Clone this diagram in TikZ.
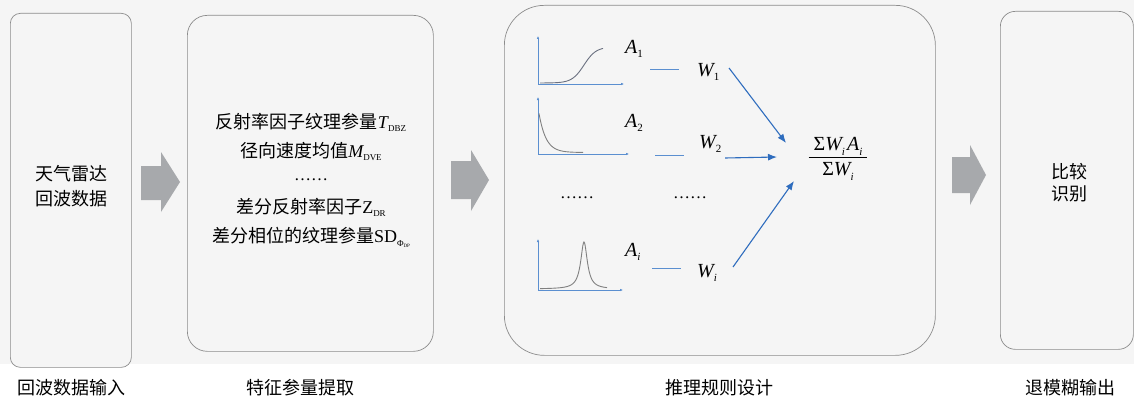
\documentclass[tikz,border=0pt]{standalone}
\usepackage{fontspec}
\setmainfont{Liberation Serif}
\newfontfamily\cjk{Noto Sans CJK SC}
\usetikzlibrary{arrows.meta}
\definecolor{bgcol}{HTML}{F5F5F5}
\definecolor{boxline}{HTML}{8C8C8C}
\definecolor{blockgray}{HTML}{A7A9AC}
\definecolor{axblue}{HTML}{5B8FD0}
\definecolor{arrblue}{HTML}{2F6DBE}
\definecolor{curvecol}{HTML}{6A7080}
\newcommand\mysub[1]{\raisebox{-0.45ex}{\fontsize{9}{9}\selectfont #1}}
\newcommand\mysubb[1]{\raisebox{-0.5ex}{\fontsize{11}{11}\selectfont #1}}
\tikzset{
  box/.style={draw=boxline, line width=0.7pt, fill=bgcol, anchor=north west, inner sep=0pt},
  lbl/.style={font=\cjk\fontsize{18}{21}\selectfont, inner sep=0pt},
  blk/.style={fill=blockgray},
  axis/.style={axblue, line width=0.6pt, -{Latex[length=3pt,width=2.6pt]}},
  curve/.style={curvecol, line width=0.9pt},
  seg/.style={axblue, line width=0.9pt},
  barr/.style={arrblue, line width=1.1pt, -{Latex[length=9pt,width=7pt]}},
  mlab/.style={font=\fontsize{20}{22}\selectfont, inner sep=0pt},
}
\begin{document}
\begin{tikzpicture}[x=1pt,y=-1pt]
\useasboundingbox (0,0) rectangle (1134,404);
\fill[bgcol] (0,0) rectangle (1134,364);
\fill[white] (0,364) rectangle (1134,404);
% boxes
\node[box, rounded corners=10pt, minimum width=121pt, minimum height=354pt] (b1) at (10,13) {};
\node[box, rounded corners=20pt, minimum width=246pt, minimum height=336pt] (b2) at (187,15) {};
\node[box, rounded corners=40pt, minimum width=431pt, minimum height=350pt] (b3) at (504,5) {};
\node[box, rounded corners=15pt, minimum width=133pt, minimum height=338pt] (b4) at (1000,11) {};
% block arrows
\fill[blk] (141,166) -- (161,166) -- (161,152) -- (180,182) -- (161,212) -- (161,200) -- (141,200) -- cycle;
\fill[blk] (451,161) -- (471,161) -- (471,150) -- (489,180) -- (471,211) -- (471,199) -- (451,199) -- cycle;
\fill[blk] (952,157) -- (970,157) -- (970,145) -- (986,175) -- (970,205) -- (970,193) -- (952,193) -- cycle;
% box texts
\node[lbl, align=center] (t1) at (71,186) {天气雷达\\[4pt]回波数据};
\node[lbl, align=center] (t4) at (1069,183) {比较\\[1pt]识别};
\node[lbl, anchor=base] (f1) at (311,128) {反射率因子纹理参量{\rmfamily\itshape T}{\rmfamily\mysub{DBZ}}};
\node[lbl, anchor=base] (f2) at (311,157) {径向速度均值{\rmfamily\itshape M}{\rmfamily\mysub{DVE}}};
\node[mlab, anchor=base, font=\fontsize{17}{20}\selectfont] (f3) at (311,180) {……};
\node[lbl, anchor=base] (f4) at (311,213) {差分反射率因子{\rmfamily Z}{\rmfamily\mysub{DR}}};
\node[lbl, anchor=base] (f5) at (311,242) {差分相位的纹理参量{\rmfamily SD}{\rmfamily\raisebox{-0.5ex}{\fontsize{9}{9}\selectfont Φ\raisebox{-0.3ex}{\fontsize{5}{5}\selectfont DP}}}};
% bottom labels
\node[lbl] (l1) at (71,388) {回波数据输入};
\node[lbl] (l2) at (300,388) {特征参量提取};
\node[lbl] (l3) at (719,388) {推理规则设计};
\node[lbl] (l4) at (1070,388) {退模糊输出};
% plots
\coordinate (o1) at (538,84); \coordinate (o2) at (538,154); \coordinate (o3) at (538,290);
\draw[axis] (o1) -- (538,36);
\draw[axis] (o1) -- (624,84);
\draw[curve] plot[domain=540:603, samples=60, smooth] (\x, {83-36/(1+exp(-(\x-584)/6))});
\draw[axis] (o2) -- (538,97);
\draw[axis] (o2) -- (629,154);
\draw[curve, gray] plot[domain=539:583, samples=50, smooth] (\x, {152.5-39*exp(-(\x-539)/7)});
\draw[axis] (o3) -- (538,239);
\draw[axis] (o3) -- (623,290);
\draw[curve, gray] plot[domain=540:607, samples=120, smooth] (\x, {289-47/(1+((\x-584)/4)^2)});
% labels A and W
\node[mlab, anchor=base west] (a1) at (625,53) {\itshape A\mysubb{\upshape 1}};
\node[mlab, anchor=base west] (a2) at (625,127) {\itshape A\mysubb{\upshape 2}};
\node[mlab, anchor=base west] (ai) at (625,256) {\itshape A\mysubb{i}};
\node[mlab, anchor=base west] (w1) at (697,76) {\itshape W\mysubb{\upshape 1}};
\node[mlab, anchor=base west] (w2) at (699,148) {\itshape W\mysubb{\upshape 2}};
\node[mlab, anchor=base west] (wi) at (697,277) {\itshape W\mysubb{i}};
\node[mlab, anchor=base, font=\fontsize{17}{20}\selectfont] (d1) at (577,198) {……};
\node[mlab, anchor=base, font=\fontsize{17}{20}\selectfont] (d2) at (690,198) {……};
% short lines
\coordinate (s1a) at (650,69); \coordinate (s1b) at (679,69);
\coordinate (s2a) at (655,155); \coordinate (s2b) at (684,155);
\coordinate (s3a) at (652,268); \coordinate (s3b) at (681,268);
\draw[seg] (s1a) -- (s1b);
\draw[seg] (s2a) -- (s2b);
\draw[seg] (s3a) -- (s3b);
% fraction
\node[mlab, inner sep=0pt] (frac) at (838,159) {\begin{tabular}{@{\hspace{5pt}}c@{\hspace{5pt}}}Σ{\itshape W\mysubb{i}\hspace{2pt}A\mysubb{i}}\\[-1pt]\hline\rule{0pt}{19pt}Σ{\itshape W\mysubb{i}}\end{tabular}};
% arrows to fraction
\coordinate (e1) at (786,143); \coordinate (e2) at (777,157); \coordinate (e3) at (794,181);
\coordinate (q1) at (729,68); \coordinate (q2) at (725,158); \coordinate (q3) at (733,267);
\draw[barr] (q1) -- (e1);
\draw[barr] (q2) -- (e2);
\draw[barr] (q3) -- (e3);
\end{tikzpicture}
\end{document}
